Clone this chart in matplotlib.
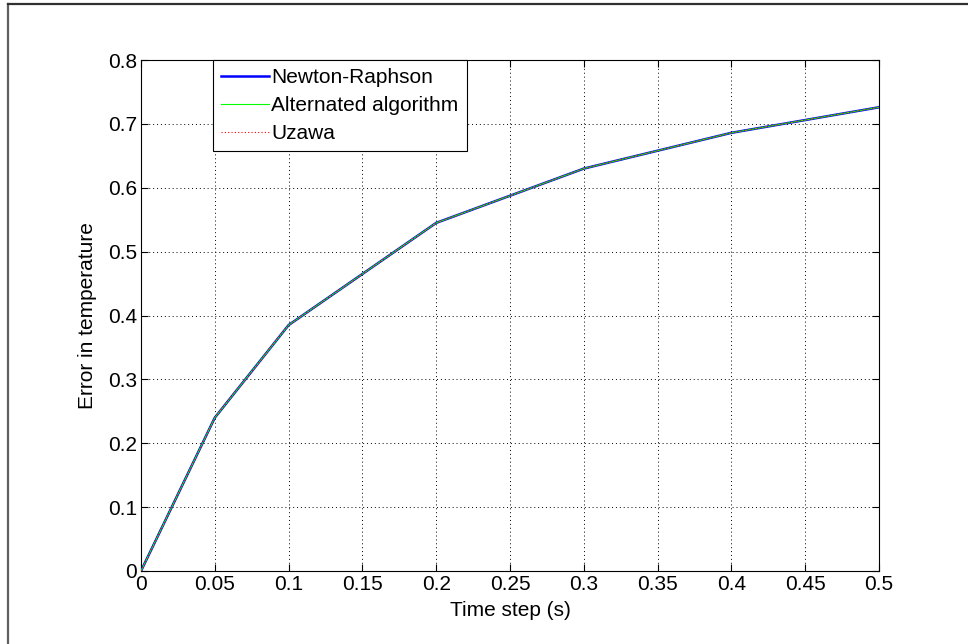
import matplotlib
matplotlib.use("Agg")
import matplotlib.pyplot as plt
from matplotlib.lines import Line2D

plt.rcParams['font.family'] = ['Liberation Sans', 'DejaVu Sans']

time_step = [0.0, 0.05, 0.1, 0.2, 0.3, 0.4, 0.5]
newton = [0.0, 0.240, 0.385, 0.545, 0.630, 0.686, 0.726]
alternated = [0.0, 0.240, 0.385, 0.545, 0.630, 0.686, 0.726]
uzawa = [0.0, 0.240, 0.385, 0.545, 0.630, 0.686, 0.726]

xticks = [0, 0.05, 0.1, 0.15, 0.2, 0.25, 0.3, 0.35, 0.4, 0.45, 0.5]
xticklabels = ['0', '0.05', '0.1', '0.15', '0.2', '0.25', '0.3', '0.35', '0.4', '0.45', '0.5']
yticks = [0, 0.1, 0.2, 0.3, 0.4, 0.5, 0.6, 0.7, 0.8]
yticklabels = ['0', '0.1', '0.2', '0.3', '0.4', '0.5', '0.6', '0.7', '0.8']

FS = 15
W, H = 968, 644
fig = plt.figure(figsize=(W / 100, H / 100), dpi=100)
ax = fig.add_axes([141 / W, (H - 571) / H, (879 - 141) / W, (571 - 60) / H])

ax.plot(time_step, newton, color=(0, 0, 1), lw=1.8, label='Newton-Raphson', zorder=3)
ax.plot(time_step, alternated, color=(0, 1, 0), lw=0.8, label='Alternated algorithm', zorder=4)
ax.plot(time_step, uzawa, color=(1, 0, 0), lw=0.8, ls=(0, (1, 2)), label='Uzawa', zorder=5)

ax.set_xlim(0, 0.5)
ax.set_ylim(0, 0.8)
ax.set_xticks(xticks)
ax.set_xticklabels(xticklabels)
ax.set_yticks(yticks)
ax.set_yticklabels(yticklabels)
ax.tick_params(direction='in', top=True, right=True, labelsize=FS, length=5, width=0.8)
ax.tick_params(axis='x', pad=3)
ax.tick_params(axis='y', pad=3)
ax.grid(True, color='black', ls=(0, (1, 3)), lw=0.7)
for s in ax.spines.values():
    s.set_linewidth(0.8)

ax.set_xlabel('Time step (s)', fontsize=FS, labelpad=5)
ax.set_ylabel('Error in temperature', fontsize=FS, labelpad=8)

leg = ax.legend(loc='upper left', bbox_to_anchor=(0.0976, 1.0), fontsize=FS,
                frameon=True, fancybox=False, edgecolor='black', framealpha=1,
                handlelength=2.3, handletextpad=0.1, borderpad=0.4,
                labelspacing=0.42, borderaxespad=0)
leg.get_frame().set_linewidth(0.8)

# figure border lines (left and top)
fig.add_artist(Line2D([7.5 / W, 7.5 / W], [0, 1 - 4 / H], transform=fig.transFigure,
                      color='#606060', lw=1.6))
fig.add_artist(Line2D([7.5 / W, 1], [1 - 4 / H, 1 - 4 / H], transform=fig.transFigure,
                      color='#303030', lw=1.6))

fig.savefig('out.png', dpi=100)
